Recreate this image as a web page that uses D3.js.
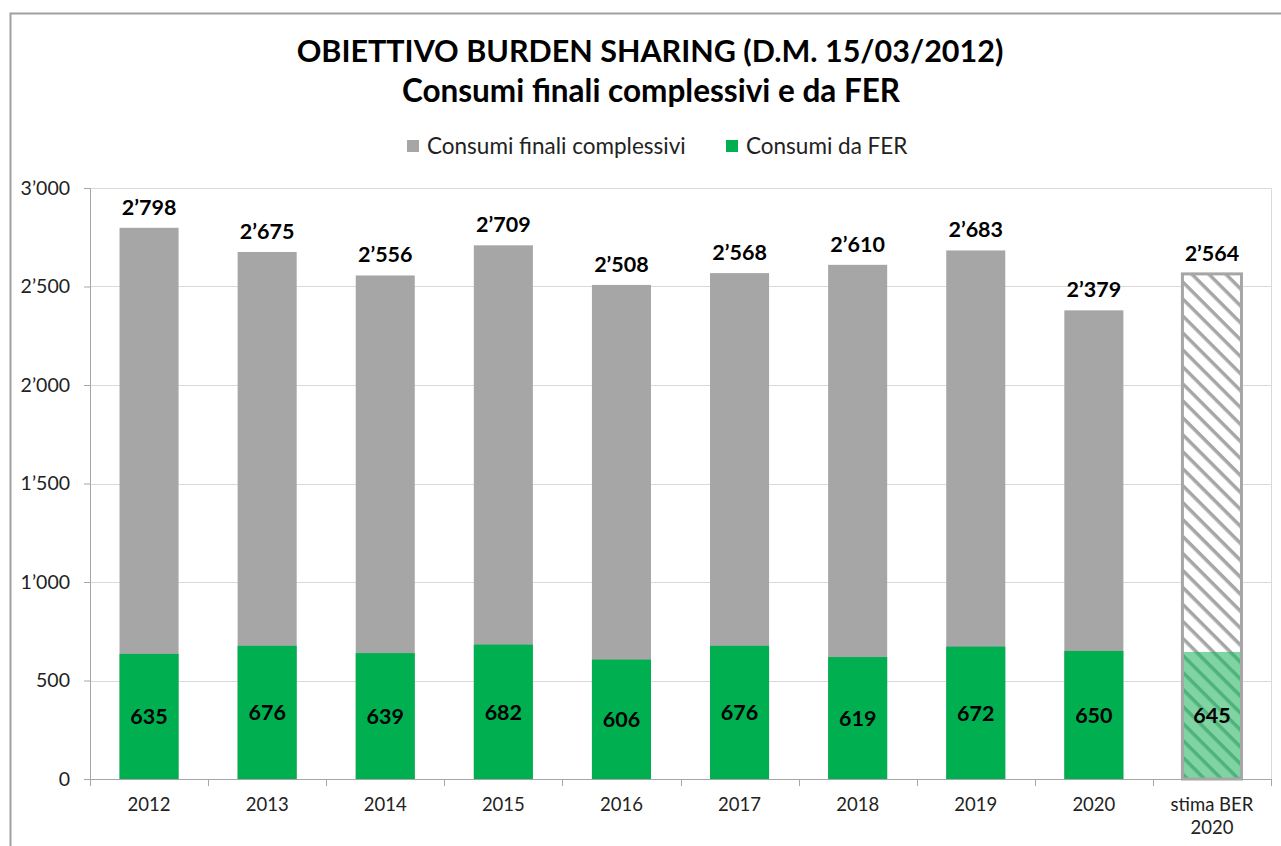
<!DOCTYPE html>
<html>
<head>
<meta charset="utf-8">
<script src="https://cdn.jsdelivr.net/npm/d3@7"></script>
<style>
  body { margin: 0; background: #fff; }
  svg { display: block; font-family: Lato, "Open Sans", sans-serif; }
</style>
</head>
<body>
<svg width="1281" height="846"></svg>
<script>

// data (ktep)
var categories = ["2012", "2013", "2014", "2015", "2016", "2017", "2018", "2019", "2020", "stima BER 2020"];
var totali = [2798, 2675, 2556, 2709, 2508, 2568, 2610, 2683, 2379, 2564];
var fer = [635, 676, 639, 682, 606, 676, 619, 672, 650, 645];
var stima = [false, false, false, false, false, false, false, false, false, true];
var yTicks = [0, 500, 1000, 1500, 2000, 2500, 3000];
var seriesNames = ["Consumi finali complessivi", "Consumi da FER"];

var grey = "#a6a6a6",
    green = "#00b050";

var data = categories.map(function(c, i) {
  return {cat: c, tot: totali[i], fer: fer[i], stima: stima[i]};
});

var svg = d3.select("svg"),
    margin = {top: 188, right: 10, bottom: 67, left: 90},
    width = 1281 - margin.left - margin.right,
    height = 846 - margin.top - margin.bottom;

var loc = d3.formatLocale({decimal: ",", thousands: "\u2019", grouping: [3], currency: ["", "€"]});
var fmt = loc.format(",d");

// outer frame
svg.append("path")
  .attr("d", "M10.5,846V13.5H1281")
  .attr("fill", "none")
  .attr("stroke", "#a0a0a0")
  .attr("stroke-width", 2);

// titles
svg.append("text")
  .attr("x", 650).attr("y", 62)
  .attr("text-anchor", "middle")
  .attr("font-weight", "bold")
  .attr("font-size", 30.5)
  .text("OBIETTIVO BURDEN SHARING (D.M. 15/03/2012)");
svg.append("text")
  .attr("x", 651).attr("y", 102)
  .attr("text-anchor", "middle")
  .attr("font-weight", "bold")
  .attr("font-size", 31.5)
  .text("Consumi finali complessivi e da FER");

// hatch patterns
var defs = svg.append("defs");
var p1 = defs.append("pattern")
  .attr("id", "hatchGrey")
  .attr("patternUnits", "userSpaceOnUse")
  .attr("width", 12).attr("height", 12)
  .attr("patternTransform", "rotate(45)");
p1.append("rect").attr("width", 12).attr("height", 12).attr("fill", "#fff");
p1.append("rect").attr("width", 12).attr("height", 3.5).attr("fill", grey);

var p2 = defs.append("pattern")
  .attr("id", "hatchGreen")
  .attr("patternUnits", "userSpaceOnUse")
  .attr("width", 12).attr("height", 12)
  .attr("patternTransform", "rotate(45)");
p2.append("rect").attr("width", 12).attr("height", 12).attr("fill", "#80d3a3");
p2.append("rect").attr("width", 12).attr("height", 3.5).attr("fill", "#4fb27c");

// legend
var legend = svg.append("g").attr("font-size", 22.5);
var legX = [407, 726];
[grey, green].forEach(function(col, i) {
  legend.append("rect")
    .attr("x", legX[i]).attr("y", 140)
    .attr("width", 12).attr("height", 12)
    .attr("fill", col);
  legend.append("text")
    .attr("x", legX[i] + 20).attr("y", 154)
    .attr("fill", "#222")
    .text(seriesNames[i]);
});

var g = svg.append("g")
  .attr("transform", "translate(" + margin.left + "," + margin.top + ")");

var x = d3.scaleBand()
  .domain(categories)
  .range([0, width])
  .paddingInner(0.5)
  .paddingOuter(0.25);

var y = d3.scaleLinear()
  .domain([0, 3000])
  .range([height, 0]);

// gridlines
g.append("g")
  .selectAll("line")
  .data(yTicks.filter(function(d) { return d > 0; }))
  .enter().append("line")
  .attr("x1", 0).attr("x2", width)
  .attr("y1", function(d) { return Math.round(y(d)) + 0.5; })
  .attr("y2", function(d) { return Math.round(y(d)) + 0.5; })
  .attr("stroke", "#d9d9d9");

// plot border right
g.append("line")
  .attr("x1", width + 0.5).attr("x2", width + 0.5)
  .attr("y1", 0).attr("y2", height)
  .attr("stroke", "#d9d9d9");

// y axis
var yAxis = g.append("g")
  .attr("class", "axis")
  .call(d3.axisLeft(y).tickValues(yTicks).tickFormat(fmt).tickSize(6).tickPadding(14));
yAxis.select(".domain").attr("stroke", "#a6a6a6");
yAxis.selectAll(".tick line").attr("stroke", "#a6a6a6");
yAxis.selectAll("text")
  .attr("font-size", 19.5)
  .attr("font-family", "Lato, sans-serif")
  .attr("fill", "#222");

// bars
var bars = g.append("g").selectAll("g")
  .data(data)
  .enter().append("g");

bars.append("rect")
  .attr("x", function(d) { return x(d.cat); })
  .attr("width", x.bandwidth())
  .attr("y", function(d) { return y(d.tot); })
  .attr("height", function(d) { return y(0) - y(d.tot); })
  .attr("fill", function(d) { return d.stima ? "url(#hatchGrey)" : grey; });

bars.append("rect")
  .attr("x", function(d) { return x(d.cat); })
  .attr("width", x.bandwidth())
  .attr("y", function(d) { return y(d.fer); })
  .attr("height", function(d) { return y(0) - y(d.fer); })
  .attr("fill", function(d) { return d.stima ? "url(#hatchGreen)" : green; });

// border for the estimate bar
bars.filter(function(d) { return d.stima; })
  .append("rect")
  .attr("x", function(d) { return x(d.cat); })
  .attr("width", x.bandwidth())
  .attr("y", function(d) { return y(d.tot); })
  .attr("height", function(d) { return y(0) - y(d.tot); })
  .attr("fill", "none")
  .attr("stroke", grey)
  .attr("stroke-width", 3);

// value labels
bars.append("text")
  .attr("x", function(d) { return x(d.cat) + x.bandwidth() / 2; })
  .attr("y", function(d) { return y(d.tot) - 13; })
  .attr("text-anchor", "middle")
  .attr("font-weight", "bold")
  .attr("font-size", 21.5)
  .text(function(d) { return fmt(d.tot); });

bars.append("text")
  .attr("x", function(d) { return x(d.cat) + x.bandwidth() / 2; })
  .attr("y", function(d) { return (y(d.fer) + y(0)) / 2 + 8; })
  .attr("text-anchor", "middle")
  .attr("font-weight", "bold")
  .attr("font-size", 21.5)
  .text(function(d) { return fmt(d.fer); });

// x axis: baseline and ticks at category boundaries
var xa = g.append("g").attr("transform", "translate(0," + height + ")");
xa.append("line")
  .attr("x1", -6).attr("x2", width)
  .attr("y1", 0.5).attr("y2", 0.5)
  .attr("stroke", "#a6a6a6");
var bounds = categories.map(function(c) { return x(c) - x.step() * x.paddingOuter(); });
bounds.push(width);
xa.selectAll(".xt")
  .data(bounds)
  .enter().append("line")
  .attr("x1", function(d) { return Math.round(d) + 0.5; })
  .attr("x2", function(d) { return Math.round(d) + 0.5; })
  .attr("y1", 0).attr("y2", 7)
  .attr("stroke", "#a6a6a6");

var xl = xa.selectAll(".xl")
  .data(categories)
  .enter().append("text")
  .attr("text-anchor", "middle")
  .attr("font-size", 18.5)
  .attr("fill", "#222")
  .attr("x", function(d) { return x(d) + x.bandwidth() / 2; })
  .attr("y", 32);

xl.each(function(d) {
  var t = d3.select(this);
  var words = d.indexOf("stima") === 0 ? ["stima BER", "2020"] : [d];
  words.forEach(function(w, i) {
    t.append("tspan")
      .attr("x", t.attr("x"))
      .attr("dy", i > 0 ? 23 : 0)
      .text(w);
  });
});

</script>
</body>
</html>
